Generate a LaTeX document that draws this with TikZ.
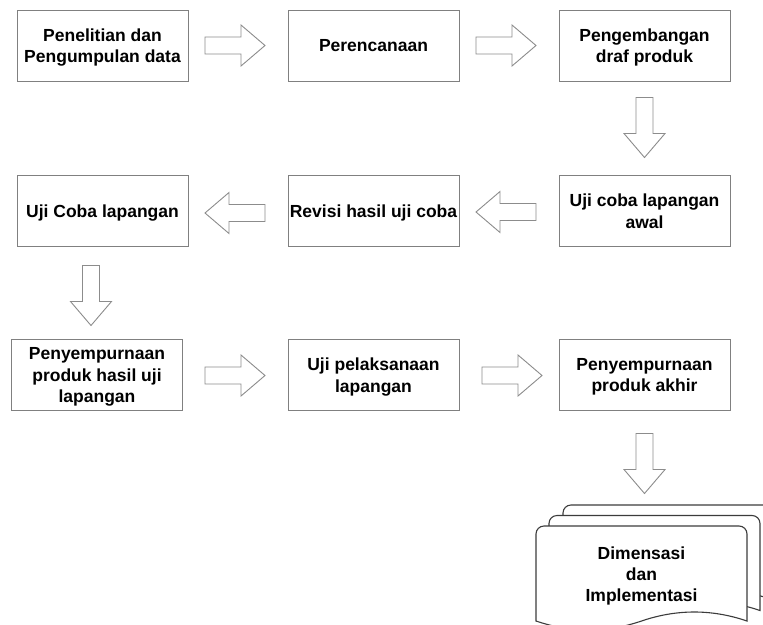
\documentclass[tikz,border=0pt]{standalone}
\usepackage{fontspec}
\setmainfont{Liberation Sans}
\definecolor{boxgray}{RGB}{128,128,128}
\definecolor{arrgray}{RGB}{140,140,140}
\definecolor{docgray}{RGB}{60,60,60}
\tikzset{
  stepbox/.style={draw=boxgray, line width=0.9pt, minimum width=171pt, minimum height=71pt, inner sep=0pt, text depth=0pt, align=center, font=\fontsize{17.5}{21.5}\selectfont\bfseries},
  blockarrow/.style={draw=arrgray, line width=0.9pt, fill=white},
  docpage/.style={draw=docgray, line width=1.1pt, fill=white},
  doctext/.style={align=center, inner sep=0pt, text depth=0pt, font=\fontsize{17.5}{21}\selectfont\bfseries},
  rarrow/.pic={\draw[blockarrow] (-30,-8.5) -- (6,-8.5) -- (6,-20.5) -- (30,0) -- (6,20.5) -- (6,8.5) -- (-30,8.5) -- cycle;}
}
\newcommand{\mydocpath}[3]{%
 \draw[docpage] (#1,#3) -- (#1,{#2+8}) arc[start angle=180,end angle=90,radius=8pt]
   -- ({#1+203},#2) arc[start angle=90,end angle=0,radius=8pt]
   -- ({#1+211},#3) .. controls ({#1+211*5/6},{#3-12}) and ({#1+211*2/3},{#3-12}) .. ({#1+105.5},#3)
   .. controls ({#1+211/3},{#3+12}) and ({#1+211/6},{#3+12}) .. (#1,#3) -- cycle;}
\begin{document}
\begin{tikzpicture}[x=1pt,y=-1pt]
\useasboundingbox (0,0) rectangle (763,624);
\fill[white] (0,0) rectangle (763,624);
\clip (0,0) rectangle (763,624);

% row 1
\node[stepbox] (b1) at (102.5,45.5) {Penelitian dan\\Pengumpulan data};
\node[stepbox] (b2) at (373.5,45.5) {Perencanaan};
\node[stepbox] (b3) at (644.5,45.5) {Pengembangan\\draf produk};
% row 2
\node[stepbox] (b4) at (644.5,211) {Uji coba lapangan\\awal};
\node[stepbox] (b5) at (373.5,211) {Revisi hasil uji coba};
\node[stepbox] (b6) at (102.5,211) {Uji Coba lapangan};
% row 3
\node[stepbox] (b7) at (97,375) {Penyempurnaan\\produk hasil uji\\lapangan};
\node[stepbox] (b8) at (373.5,375) {Uji pelaksanaan\\lapangan};
\node[stepbox] (b9) at (644.5,375) {Penyempurnaan\\produk akhir};

% block arrows
\pic at (235,45.5) {rarrow};
\pic at (506,45.5) {rarrow};
\pic[rotate=-90] at (644.5,127.5) {rarrow};
\pic[rotate=180] at (506,212) {rarrow};
\pic[rotate=180] at (235,213) {rarrow};
\pic[rotate=-90] at (91,295.5) {rarrow};
\pic at (235,375.5) {rarrow};
\pic at (512,375.5) {rarrow};
\pic[rotate=-90] at (644.5,463.5) {rarrow};

% multi-document
\mydocpath{563}{505}{600}
\mydocpath{549}{515.5}{610.5}
\mydocpath{536}{526}{621}
\node[doctext] (d) at (641.5,574) {Dimensasi\\dan\\Implementasi};
\end{tikzpicture}
\end{document}
